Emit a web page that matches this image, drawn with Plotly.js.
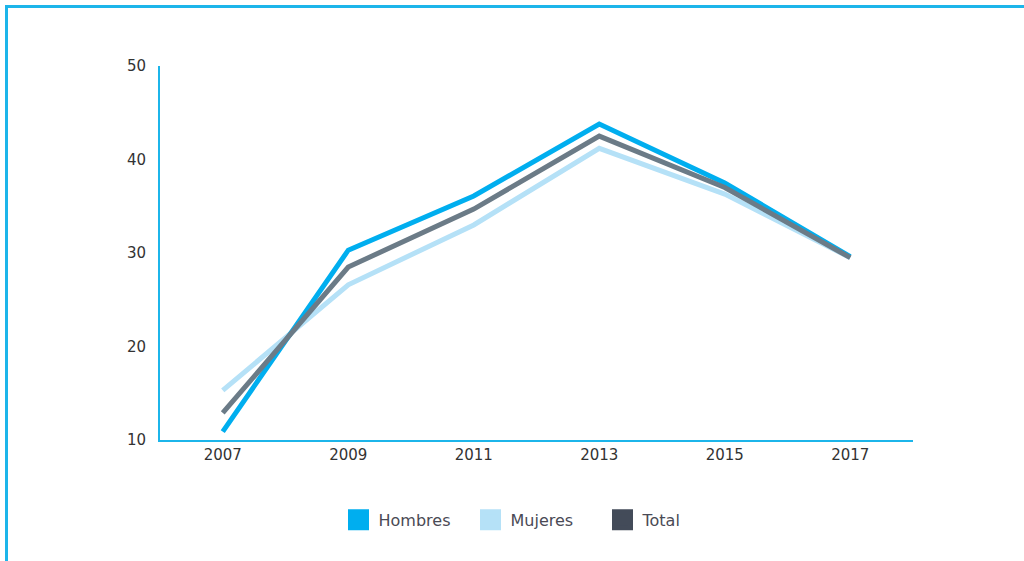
<!DOCTYPE html>
<html>
<head>
<meta charset="utf-8">
<script src="https://cdn.plot.ly/plotly-3.0.1.min.js"></script>
<style>
  body { margin: 0; background: white; }
  #wrap { position: relative; width: 1024px; height: 561px; overflow: hidden; }
  #marco { position: absolute; left: 5px; top: 5px; width: 1200px; height: 800px;
           border-left: 3px solid #1CB5EA; border-top: 3px solid #1CB5EA; pointer-events: none; }
  #graph { position: absolute; left: 0; top: 0; }
</style>
</head>
<body>
<div id="wrap">
  <div id="graph"></div>
  <div id="marco"></div>
</div>
<script>
// datos
const anios = ['2007', '2009', '2011', '2013', '2015', '2017'];
const hombres = [10.9, 30.3, 36.1, 43.8, 37.5, 29.6];
const mujeres = [15.3, 26.6, 33.0, 41.2, 36.3, 29.5];
const total = [12.9, 28.5, 34.7, 42.5, 37.0, 29.5];

const cHombres = '#00AEEF';
const cMujeres = '#B5E1F7';
const cTotal = '#6B7B87';
const cTotalLeyenda = '#434B59';

function linea(nombre, y, color) {
    return {
        x: anios, y: y, type: 'scatter', mode: 'lines', name: nombre,
        line: { color: color, width: 5 }, showlegend: false, hoverinfo: 'skip'
    };
}

// cuadrados de la leyenda (el borde los agranda)
function leyenda(nombre, color) {
    return {
        x: [null], y: [null], type: 'scatter', mode: 'markers', name: nombre,
        marker: { symbol: 'square', size: 16, color: color, line: { color: color, width: 6 } },
        showlegend: true
    };
}

const trazas = [
    linea('Mujeres', mujeres, cMujeres),
    linea('Hombres', hombres, cHombres),
    linea('Total', total, cTotal),
    leyenda('Hombres', cHombres),
    leyenda('Mujeres', cMujeres),
    leyenda('Total', cTotalLeyenda)
];

const layout = {
    width: 1024, height: 561,
    margin: { l: 160, r: 111, t: 66, b: 121 },
    paper_bgcolor: 'rgba(0,0,0,0)',
    plot_bgcolor: 'white',
    font: { family: '"DejaVu Sans", sans-serif', size: 15, color: '#333' },
    xaxis: {
        type: 'category', range: [-0.5, 5.5],
        showline: true, linecolor: '#1CB5EA', linewidth: 2,
        showgrid: false, zeroline: false, ticks: '',
        tickfont: { size: 15, color: '#333' }
    },
    yaxis: {
        range: [10, 50], tickvals: [10, 20, 30, 40, 50],
        showline: true, linecolor: '#1CB5EA', linewidth: 2,
        showgrid: false, zeroline: false, ticks: '', ticklabelstandoff: 9,
        tickfont: { size: 15, color: '#333' }
    },
    showlegend: true,
    legend: {
        orientation: 'h', x: 0.5, xanchor: 'center', y: -0.168, yanchor: 'top',
        font: { size: 16, color: '#4a4a55' }, itemwidth: 30, traceorder: 'normal',
        entrywidth: 87
    }
};

Plotly.newPlot('graph', trazas, layout, { displayModeBar: false, staticPlot: true });
</script>
</body>
</html>
